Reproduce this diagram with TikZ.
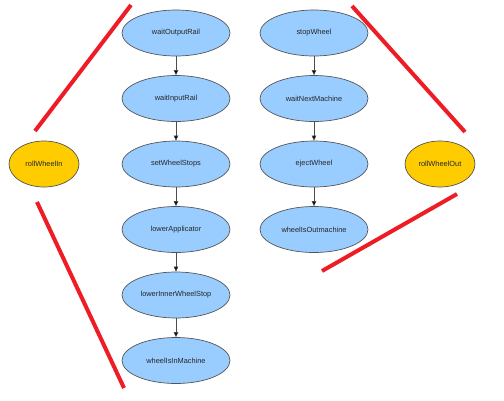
\documentclass[tikz,border=0pt]{standalone}
\usepackage{fontspec}
\setmainfont{Liberation Sans}
\usetikzlibrary{shapes.geometric,arrows.meta}
\definecolor{bluefill}{HTML}{99CCFF}
\definecolor{yellowfill}{HTML}{FFCC00}
\definecolor{rim}{HTML}{555555}
\definecolor{redline}{HTML}{EE1C25}
\begin{document}
\begin{tikzpicture}[x=1pt,y=-1pt,
  state/.style={ellipse,draw=rim,line width=0.7pt,fill=bluefill,minimum width=108pt,minimum height=46pt,inner sep=0pt,font=\fontsize{7.4}{9}\selectfont,text=black!85},
  extstate/.style={state,fill=yellowfill,minimum width=70pt},
  flow/.style={draw=black!70,line width=0.6pt,-{Triangle[length=5pt,width=4.5pt,fill=black]}},
  barline/.style={draw=redline,line width=4pt}]
\useasboundingbox (0,0) rectangle (504,400);
\node[state] (a1) at (176,33) {waitOutputRail};
\node[state] (a2) at (176,98.5) {waitInputRail};
\node[state] (a3) at (176,164) {setWheelStops};
\node[state] (a4) at (176,229.5) {lowerApplicator};
\node[state] (a5) at (176,295) {lowerInnerWheelStop};
\node[state] (a6) at (176,360.5) {wheelIsInMachine};
\node[state] (b1) at (314,33) {stopWheel};
\node[state] (b2) at (314,98.5) {waitNextMachine};
\node[state] (b3) at (314,164) {ejectWheel};
\node[state] (b4) at (314,229.5) {wheelIsOutmachine};
\node[extstate] (in) at (44,164) {rollWheelIn};
\node[extstate] (out) at (440,164) {rollWheelOut};
\foreach \u/\v in {a1/a2,a2/a3,a3/a4,a4/a5,a5/a6,b1/b2,b2/b3,b3/b4}
  \draw[flow] (\u) -- (\v);
\coordinate (r1a) at (131,5);   \coordinate (r1b) at (35,131);
\coordinate (r2a) at (37,202);  \coordinate (r2b) at (124,388);
\coordinate (r3a) at (352,6);   \coordinate (r3b) at (465,132);
\coordinate (r4a) at (457,194); \coordinate (r4b) at (322,271);
\draw[barline] (r1a) -- (r1b);
\draw[barline] (r2a) -- (r2b);
\draw[barline] (r3a) -- (r3b);
\draw[barline] (r4a) -- (r4b);
\end{tikzpicture}
\end{document}
